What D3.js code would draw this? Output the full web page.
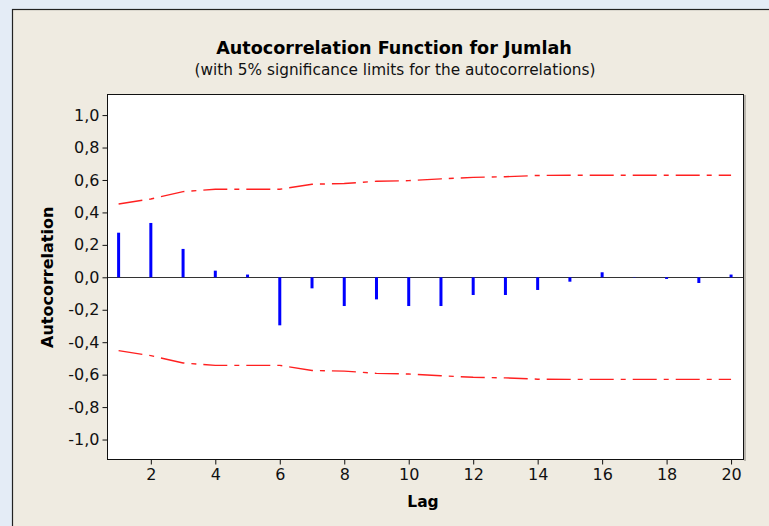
<!DOCTYPE html>
<html>
<head>
<meta charset="utf-8">
<script src="https://cdn.jsdelivr.net/npm/d3@7"></script>
<style>
  body { margin: 0; background: #e4ecf6; }
  svg { display: block; }
</style>
</head>
<body>
<div id="chart"></div>
<script>
// lags and autocorrelation values
var lags = [1, 2, 3, 4, 5, 6, 7, 8, 9, 10, 11, 12, 13, 14, 15, 16, 17, 18, 19, 20];
var acf = [0.275, 0.335, 0.175, 0.041, 0.017, -0.296, -0.068, -0.177, -0.136, -0.177,
           -0.177, -0.109, -0.109, -0.078, -0.027, 0.031, 0.002, -0.01, -0.035, 0.017];
// upper 5% significance limit (lower is the mirror)
var limit = [0.452, 0.483, 0.528, 0.543, 0.543, 0.543, 0.574, 0.578, 0.592, 0.596,
             0.607, 0.616, 0.62, 0.628, 0.629, 0.629, 0.629, 0.629, 0.629, 0.629];
var yTicks = [-1.0, -0.8, -0.6, -0.4, -0.2, 0.0, 0.2, 0.4, 0.6, 0.8, 1.0];
var xTicks = [2, 4, 6, 8, 10, 12, 14, 16, 18, 20];

var W = 769, H = 526;
var plot = { left: 107, top: 94, right: 743, bottom: 459 };
var font = "Tahoma, 'DejaVu Sans', sans-serif";

var svg = d3.select('#chart').append('svg')
	.attr('width', W)
	.attr('height', H);

// outer graph window
svg.append('rect')
	.attr('x', 12.5).attr('y', 9.5)
	.attr('width', W + 10).attr('height', H + 10)
	.attr('fill', '#efebe1')
	.attr('stroke', '#222')
	.attr('stroke-width', 1.2);

var x = d3.scaleLinear().domain([0.64, 20.37]).range([plot.left, plot.right]);
var y = d3.scaleLinear().domain([-1.12, 1.13]).range([plot.bottom, plot.top]);

// data region
svg.append('rect')
	.attr('x', plot.left + 0.5).attr('y', plot.top + 0.5)
	.attr('width', plot.right - plot.left).attr('height', plot.bottom - plot.top)
	.attr('fill', '#fff');
svg.append('line')
	.attr('x1', plot.right + 2).attr('x2', plot.right + 2)
	.attr('y1', plot.top + 1).attr('y2', plot.bottom + 2)
	.attr('stroke', '#a9a59d').attr('stroke-width', 1.5);

// axes
var yAxis = d3.axisLeft(y).tickValues(yTicks).tickSize(5).tickPadding(3)
	.tickFormat(function(d){ return d3.format('.1f')(d).replace('.', ',').replace('−', '-'); });
var xAxis = d3.axisBottom(x).tickValues(xTicks).tickSize(5).tickPadding(4);

var gy = svg.append('g').attr('transform', 'translate(' + (plot.left + 0.5) + ',0)').call(yAxis);
var gx = svg.append('g').attr('transform', 'translate(0,' + (plot.bottom + 0.5) + ')').call(xAxis);
[gy, gx].forEach(function(g){
	g.select('.domain').remove();
	g.selectAll('line').attr('stroke', '#111');
	g.selectAll('text').attr('font-family', font).attr('font-size', 16).attr('fill', '#111');
});

// zero reference line
svg.append('line')
	.attr('x1', plot.left).attr('x2', plot.right)
	.attr('y1', Math.round(y(0)) + 0.5).attr('y2', Math.round(y(0)) + 0.5)
	.attr('stroke', '#333').attr('stroke-width', 1.2);

// significance limits
var lineUp = d3.line().x(function(d, i){ return x(lags[i]); }).y(function(d){ return y(d); });
var lineDn = d3.line().x(function(d, i){ return x(lags[i]); }).y(function(d){ return y(-d); });
[lineUp, lineDn].forEach(function(ln){
	svg.append('path')
		.attr('d', ln(limit))
		.attr('fill', 'none')
		.attr('stroke', '#ff2020')
		.attr('stroke-width', 1.4)
		.attr('stroke-dasharray', '24,7,5,7');
});

// acf bars
svg.selectAll('rect.bar')
	.data(acf)
	.enter().append('rect')
	.attr('class', 'bar')
	.attr('x', function(d, i){ return x(lags[i]) - 1.5; })
	.attr('y', function(d){ return y(Math.max(0, d)); })
	.attr('width', 3)
	.attr('height', function(d){ return Math.abs(y(d) - y(0)); })
	.attr('fill', '#0000ff');

// frame on top
svg.append('rect')
	.attr('x', plot.left + 0.5).attr('y', plot.top + 0.5)
	.attr('width', plot.right - plot.left).attr('height', plot.bottom - plot.top)
	.attr('fill', 'none')
	.attr('stroke', '#111');

// titles
svg.append('text')
	.attr('x', 394).attr('y', 54)
	.attr('text-anchor', 'middle')
	.attr('font-family', font).attr('font-weight', 'bold').attr('font-size', 17.6)
	.attr('fill', '#000')
	.text('Autocorrelation Function for Jumlah');
svg.append('text')
	.attr('x', 395).attr('y', 75)
	.attr('text-anchor', 'middle')
	.attr('font-family', font).attr('font-size', 15.3)
	.attr('fill', '#111')
	.text('(with 5% significance limits for the autocorrelations)');
svg.append('text')
	.attr('x', 423).attr('y', 507)
	.attr('text-anchor', 'middle')
	.attr('font-family', font).attr('font-weight', 'bold').attr('font-size', 15.5)
	.attr('fill', '#000')
	.text('Lag');
svg.append('text')
	.attr('transform', 'translate(53,' + y(0) + ') rotate(-90)')
	.attr('text-anchor', 'middle')
	.attr('font-family', font).attr('font-weight', 'bold').attr('font-size', 16)
	.attr('fill', '#000')
	.text('Autocorrelation');
</script>
</body>
</html>
